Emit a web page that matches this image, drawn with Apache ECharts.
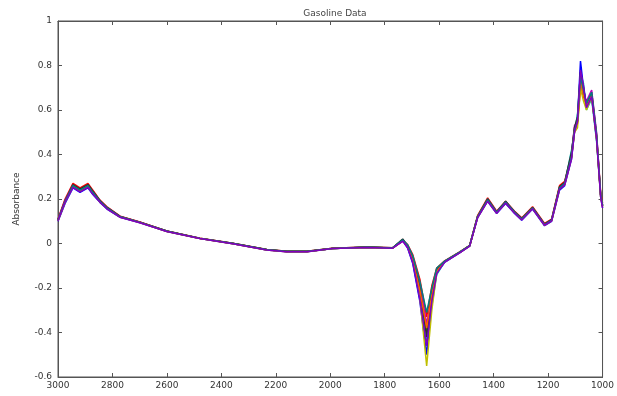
<!DOCTYPE html>
<html><head><meta charset="utf-8">
<script src="https://cdn.jsdelivr.net/npm/echarts@6/dist/echarts.min.js"></script>
<style>html,body{margin:0;padding:0;background:#fff}#c{width:617px;height:396px}</style>
</head><body><div id="c"></div>
<script>
const titleText = 'Gasoline Data';
const yName = 'Absorbance';
const wavenumbers = [3000,2974,2945,2919,2890,2872,2846,2820,2772,2699,2600,2479,2358,2233,2160,2086,1991,1866,1771,1734,1716,1697,1671,1646,1627,1609,1580,1525,1488,1459,1422,1389,1356,1323,1297,1257,1213,1187,1158,1139,1114,1103,1092,1081,1070,1059,1040,1022,1007,1000];
const s1 = [0.105,0.19,0.26,0.24,0.26,0.23,0.19,0.16,0.12,0.095,0.055,0.023,0.0,-0.028,-0.036,-0.036,-0.022,-0.017,-0.02,0.014,-0.01,-0.065,-0.2,-0.40,-0.22,-0.12,-0.08,-0.04,-0.01,0.12,0.196,0.14,0.186,0.14,0.11,0.16,0.085,0.105,0.25,0.27,0.39,0.51,0.55,0.74,0.68,0.62,0.67,0.48,0.22,0.17];
const s2 = [0.1,0.18,0.25,0.23,0.25,0.22,0.185,0.155,0.118,0.093,0.054,0.022,-0.001,-0.029,-0.037,-0.037,-0.023,-0.018,-0.021,0.012,-0.02,-0.09,-0.26,-0.50,-0.25,-0.13,-0.085,-0.042,-0.012,0.115,0.19,0.135,0.18,0.135,0.105,0.155,0.08,0.1,0.24,0.26,0.38,0.5,0.56,0.82,0.7,0.61,0.66,0.47,0.21,0.16];
const s3 = [0.11,0.2,0.27,0.25,0.27,0.24,0.195,0.165,0.123,0.097,0.056,0.024,0.001,-0.027,-0.035,-0.035,-0.021,-0.016,-0.019,0.016,-0.005,-0.05,-0.16,-0.33,-0.19,-0.11,-0.078,-0.038,-0.008,0.125,0.205,0.145,0.19,0.145,0.115,0.165,0.09,0.11,0.26,0.28,0.40,0.52,0.54,0.70,0.66,0.63,0.68,0.49,0.23,0.18];
const s4 = [0.105,0.185,0.255,0.235,0.255,0.225,0.188,0.158,0.12,0.095,0.055,0.023,0.0,-0.028,-0.036,-0.036,-0.022,-0.017,-0.02,0.018,-0.015,-0.08,-0.22,-0.44,-0.28,-0.14,-0.082,-0.04,-0.01,0.12,0.2,0.14,0.185,0.14,0.11,0.16,0.085,0.105,0.25,0.27,0.42,0.5,0.58,0.76,0.72,0.6,0.65,0.46,0.22,0.17];
const s5 = [0.108,0.195,0.262,0.242,0.262,0.232,0.192,0.162,0.121,0.096,0.055,0.023,0.0,-0.028,-0.036,-0.036,-0.022,-0.017,-0.02,0.01,-0.008,-0.06,-0.18,-0.36,-0.24,-0.115,-0.08,-0.04,-0.01,0.12,0.198,0.142,0.188,0.142,0.11,0.16,0.085,0.105,0.25,0.27,0.4,0.53,0.55,0.72,0.67,0.64,0.69,0.5,0.22,0.17];
const s6 = [0.103,0.188,0.258,0.238,0.258,0.228,0.189,0.159,0.12,0.094,0.055,0.023,0.0,-0.028,-0.036,-0.036,-0.022,-0.017,-0.02,0.015,-0.012,-0.07,-0.24,-0.55,-0.3,-0.13,-0.08,-0.04,-0.01,0.12,0.193,0.138,0.183,0.138,0.108,0.158,0.083,0.103,0.25,0.27,0.39,0.5,0.52,0.7,0.64,0.6,0.66,0.47,0.21,0.17];
const s7 = [0.107,0.192,0.265,0.245,0.265,0.235,0.193,0.162,0.122,0.096,0.056,0.024,0.001,-0.027,-0.035,-0.035,-0.021,-0.016,-0.019,0.02,-0.01,-0.07,-0.2,-0.42,-0.21,-0.12,-0.08,-0.04,-0.01,0.122,0.2,0.142,0.19,0.142,0.112,0.162,0.087,0.107,0.255,0.275,0.41,0.52,0.57,0.77,0.7,0.62,0.67,0.48,0.22,0.17];
const s8 = [0.104,0.187,0.257,0.237,0.257,0.227,0.188,0.158,0.119,0.094,0.054,0.022,-0.001,-0.029,-0.037,-0.037,-0.023,-0.018,-0.021,0.013,-0.014,-0.075,-0.21,-0.38,-0.23,-0.125,-0.082,-0.041,-0.011,0.118,0.194,0.138,0.184,0.138,0.108,0.158,0.083,0.103,0.245,0.265,0.385,0.505,0.545,0.73,0.67,0.615,0.665,0.475,0.215,0.165];
const s9 = [0.106,0.19,0.26,0.24,0.26,0.23,0.19,0.16,0.12,0.095,0.055,0.023,0.0,-0.028,-0.036,-0.036,-0.022,-0.017,-0.02,0.016,-0.006,-0.055,-0.17,-0.31,-0.2,-0.11,-0.079,-0.039,-0.009,0.12,0.196,0.14,0.186,0.14,0.11,0.16,0.085,0.105,0.25,0.27,0.39,0.51,0.55,0.75,0.69,0.63,0.68,0.49,0.22,0.17];
const s10 = [0.102,0.186,0.252,0.232,0.252,0.222,0.186,0.156,0.118,0.093,0.054,0.022,-0.001,-0.029,-0.037,-0.037,-0.023,-0.018,-0.021,0.011,-0.018,-0.085,-0.25,-0.46,-0.26,-0.135,-0.084,-0.042,-0.012,0.116,0.19,0.136,0.182,0.136,0.106,0.156,0.082,0.102,0.245,0.265,0.38,0.5,0.55,0.78,0.71,0.61,0.66,0.47,0.21,0.16];
const allSeries = [s1,s2,s3,s4,s5,s6,s7,s8,s9,s10];
const colors = ['#00a000','#0000ff','#ff0000','#00bfbf','#bf00bf','#bfbf00','#303030','#ff6000','#008080','#8000c0'];

const chart = echarts.init(document.getElementById('c'), null, {renderer:'canvas'});
const axisCol = '#555';
const lbl = {color:'#333', fontSize:9, fontFamily:'DejaVu Sans'};
const tick = {inside:true, length:4, lineStyle:{color:axisCol}};
const line = {show:true, onZero:false, lineStyle:{color:axisCol}};
chart.setOption({
  animation:false,
  backgroundColor:'#fff',
  title:{text:titleText, left:330, top:4, textAlign:'center',
    textStyle:{fontSize:9, fontWeight:'normal', color:'#444', fontFamily:'DejaVu Sans'}},
  grid:{left:58, right:14, top:21, bottom:19, show:true, borderColor:axisCol, borderWidth:1},
  xAxis:[{type:'value', min:1000, max:3000, interval:200, inverse:true,
    axisLine:line, axisTick:tick,
    axisLabel:Object.assign({margin:4, formatter:v=>String(v)}, lbl), splitLine:{show:false}},
    {type:'value', min:1000, max:3000, interval:200, inverse:true, position:'top',
    axisLine:line, axisTick:tick, axisLabel:{show:false}, splitLine:{show:false}}],
  yAxis:[{type:'value', min:-0.6, max:1, interval:0.2, name:yName, nameLocation:'middle', nameGap:37,
    nameTextStyle:{fontSize:9, color:'#333', fontFamily:'DejaVu Sans'},
    axisLine:line, axisTick:tick,
    axisLabel:Object.assign({margin:6, formatter:v=>String(+v.toFixed(1))}, lbl), splitLine:{show:false}},
    {type:'value', min:-0.6, max:1, interval:0.2, position:'right',
    axisLine:line, axisTick:tick, axisLabel:{show:false}, splitLine:{show:false}}],
  series: allSeries.map((s,i)=>({
    type:'line', showSymbol:false, symbol:'none', xAxisIndex:0, yAxisIndex:0,
    data: wavenumbers.map((w,j)=>[w,s[j]]),
    lineStyle:{width:1.5, color:colors[i]}, itemStyle:{color:colors[i]}
  }))
});
</script></body></html>
